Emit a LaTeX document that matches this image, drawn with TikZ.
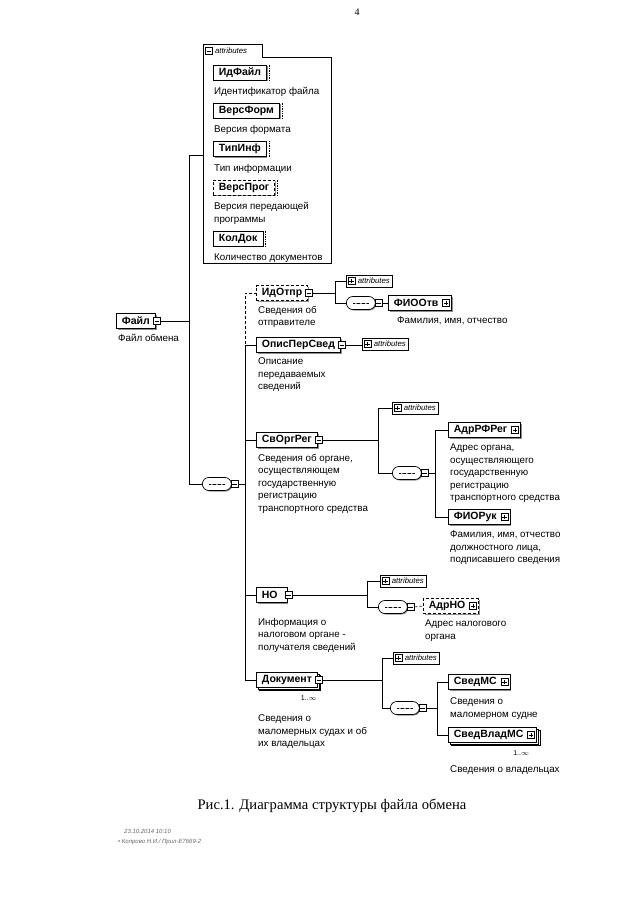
\documentclass[tikz,border=0pt]{standalone}
\usepackage{fontspec}
\setmainfont{Liberation Sans}
\newfontfamily\capfont{Liberation Serif}
\usetikzlibrary{positioning, shapes.misc, shadows}

\tikzset{
    elem/.style={draw, line width=0.8pt, fill=white, anchor=west, font=\fontsize{10.5}{12}\selectfont\bfseries,
        inner xsep=5.5pt, inner ysep=0pt, minimum height=15pt,
        drop shadow={shadow xshift=1.2pt, shadow yshift=-1.2pt, fill=black!45, opacity=1}},
    optelem/.style={elem, densely dashed},
    multelem/.style={elem, double copy shadow={shadow xshift=1.6pt, shadow yshift=-1.6pt}},
    desc/.style={align=left, inner sep=0pt, font=\fontsize{9.8}{12.5}\selectfont},
    mbtn/.style={draw, solid, fill=white, line width=0.6pt, minimum size=7pt, inner sep=0pt,
        path picture={\draw ([xshift=1.3pt]path picture bounding box.west) -- ([xshift=-1.3pt]path picture bounding box.east);}},
    pbtn/.style={mbtn,
        path picture={\draw ([xshift=1.3pt]path picture bounding box.west) -- ([xshift=-1.3pt]path picture bounding box.east);
                      \draw ([yshift=-1.3pt]path picture bounding box.north) -- ([yshift=1.3pt]path picture bounding box.south);}},
    attr/.style={draw, fill=white, line width=0.6pt, anchor=west, font=\fontsize{7.8}{9}\selectfont\itshape,
        inner xsep=2.5pt, inner ysep=0pt, minimum height=12pt,
        drop shadow={shadow xshift=1pt, shadow yshift=-1pt, fill=black!45, opacity=1}},
    seq/.style={rounded rectangle, draw, fill=white, line width=0.7pt, anchor=west,
        minimum width=29pt, minimum height=13pt, inner sep=0pt,
        drop shadow={shadow xshift=1pt, shadow yshift=-1pt, fill=black!45, opacity=1},
        path picture={\draw ([xshift=-8pt]path picture bounding box.center) -- ([xshift=8pt]path picture bounding box.center);
                      \fill ([xshift=-5pt]path picture bounding box.center) circle (1pt)
                            (path picture bounding box.center) circle (1pt)
                            ([xshift=5pt]path picture bounding box.center) circle (1pt);}},
    conn/.style={line width=0.6pt},
    mult/.style={font=\fontsize{7}{8}\selectfont, inner sep=0pt},
}
\newcommand{\simplemark}[1]{\draw[densely dotted, line width=0.7pt] ([xshift=2.5pt]#1.north east) -- ([xshift=2.5pt]#1.south east);}

\begin{document}
\begin{tikzpicture}[x=1pt, y=-1pt]
    \useasboundingbox[fill=white] (0,0) rectangle (640,905);

    \node[font=\capfont\fontsize{10}{12}\selectfont] (pagenum) at (357,12) {4};

    % attributes of the root
    \draw[conn] (203,44) -- (262,44) -- (262,57) -- (331,57) -- (331,263) -- (203,263) -- cycle;
    \node[mbtn] (tabb) at (209,51) {};
    \node[anchor=west, inner sep=0pt, font=\fontsize{7.8}{9}\selectfont\itshape, right=2pt of tabb] (tabt) {attributes};
    \coordinate (attrtop) at (203,155);

    \node[elem] (idfayl) at (213,72.5) {ИдФайл};
    \node[desc, below right=7pt and 1pt of idfayl.south west] (idfayld) {Идентификатор файла};
    \node[elem] (versform) at (213,110.5) {ВерсФорм};
    \node[desc, below right=7pt and 1pt of versform.south west] (versformd) {Версия формата};
    \node[elem] (tipinf) at (213,149) {ТипИнф};
    \node[desc, below right=7pt and 1pt of tipinf.south west] (tipinfd) {Тип информации};
    \node[optelem] (versprog) at (213,187.5) {ВерсПрог};
    \node[desc, below right=7pt and 1pt of versprog.south west] (versprogd) {Версия передающей\\программы};
    \node[elem] (koldok) at (213,238.5) {КолДок};
    \node[desc, below right=7pt and 1pt of koldok.south west] (koldokd) {Количество документов};
    \simplemark{idfayl}
    \simplemark{versform}
    \simplemark{tipinf}
    \simplemark{versprog}
    \simplemark{koldok}

    % root
    \node[elem] (fayl) at (116,321) {Файл};
    \node[mbtn] (faylb) at ([xshift=1pt]fayl.east) {};
    \node[desc, below right=5pt and 2pt of fayl.south west] (fayld) {Файл обмена};

    \coordinate (sp1) at (189,0);
    \node[seq] (seq1) at (202,484) {};
    \node[mbtn, right=-1pt of seq1] (seq1b) {};
    \draw[conn] (faylb.east) -- (faylb.east -| sp1);
    \draw[conn] (attrtop) -- (attrtop -| sp1) -- (seq1.west -| sp1) -- (seq1.west);

    % children of the sequence
    \node[optelem] (idotpr) at (256,293) {ИдОтпр};
    \node[mbtn] (idotprb) at ([xshift=1pt]idotpr.east) {};
    \node[desc, below right=5pt and 2pt of idotpr.south west] (idotprd) {Сведения об\\отправителе};

    \node[elem] (opisper) at (256,345) {ОписПерСвед};
    \node[mbtn] (opisperb) at ([xshift=1pt]opisper.east) {};
    \node[desc, below right=5pt and 2pt of opisper.south west] (opisperd) {Описание\\передаваемых\\сведений};

    \node[elem] (svorgreg) at (256,440) {СвОргРег};
    \node[mbtn] (svorgregb) at ([xshift=1pt]svorgreg.east) {};
    \node[desc, below right=6pt and 2pt of svorgreg.south west] (svorgregd) {Сведения об органе,\\осуществляющем\\государственную\\регистрацию\\транспортного средства};

    \node[elem] (nalog) at (256,595) {НО\kern4pt};
    \node[mbtn] (nalogb) at ([xshift=1pt]nalog.east) {};
    \node[desc, below right=15pt and 2pt of nalog.south west] (nalogd) {Информация о\\налоговом органе -\\получателя сведений};

    \node[multelem] (dokument) at (256,680) {Документ};
    \node[mbtn] (dokumentb) at ([xshift=1pt]dokument.east) {};
    \node[mult, below left=8pt and 1pt of dokument.south east] (dokumentm) {1..$\infty$};
    \node[desc, below right=27pt and 2pt of dokument.south west] (dokumentd) {Сведения о\\маломерных  судах и об\\их владельцах};

    \coordinate (sp2) at (245,0);
    \draw[conn] (seq1b.east) -- (seq1b.east -| sp2);
    \draw[conn, densely dashed] (seq1b.east -| sp2) -- (idotpr.west -| sp2) -- (idotpr.west);
    \draw[conn] (opisper.west) -- (opisper.west -| sp2) -- (dokument.west -| sp2) -- (dokument.west);
    \draw[conn] (svorgreg.west -| sp2) -- (svorgreg.west);
    \draw[conn] (nalog.west -| sp2) -- (nalog.west);

    % ИдОтпр
    \coordinate (sp3) at (335,0);
    \node[attr] (idotpra) at (346,281) {\hspace{9pt}attributes};
    \node[pbtn] at ([xshift=5.5pt]idotpra.west) {};
    \node[seq] (seq2) at (346,303) {};
    \node[mbtn, right=-1pt of seq2] (seq2b) {};
    \node[elem] (fiootv) at (388,303) {ФИООтв\kern8pt};
    \node[pbtn] (fiootvb) at ([xshift=-6pt]fiootv.east) {};
    \node[desc, below right=6pt and 9pt of fiootv.south west] (fiootvd) {Фамилия, имя, отчество};
    \draw[conn] (idotprb.east) -- (idotprb.east -| sp3);
    \draw[conn] (idotpra.west) -- (idotpra.west -| sp3) -- (seq2.west -| sp3) -- (seq2.west);
    \draw[conn] (seq2b.east) -- (fiootv.west);

    % ОписПерСвед
    \node[attr] (opispera) at (362,344) {\hspace{9pt}attributes};
    \node[pbtn] at ([xshift=5.5pt]opispera.west) {};
    \draw[conn] (opisperb.east) -- (opisperb.east -| opispera.west);

    % СвОргРег
    \coordinate (sp4) at (378,0);
    \node[attr] (svorgrega) at (392,408) {\hspace{9pt}attributes};
    \node[pbtn] at ([xshift=5.5pt]svorgrega.west) {};
    \node[seq] (seq3) at (392,473) {};
    \node[mbtn, right=-1pt of seq3] (seq3b) {};
    \draw[conn] (svorgregb.east) -- (svorgregb.east -| sp4);
    \draw[conn] (svorgrega.west) -- (svorgrega.west -| sp4) -- (seq3.west -| sp4) -- (seq3.west);

    \coordinate (sp5) at (435,0);
    \node[elem] (adrrfreg) at (448,430) {АдрРФРег\kern8pt};
    \node[pbtn] (adrrfregb) at ([xshift=-6pt]adrrfreg.east) {};
    \node[desc, below right=6pt and 2pt of adrrfreg.south west] (adrrfregd) {Адрес органа,\\осуществляющего\\государственную\\регистрацию\\транспортного средства};
    \node[elem] (fioruk) at (448,517) {ФИОРук\kern8pt};
    \node[pbtn] (fiorukb) at ([xshift=-6pt]fioruk.east) {};
    \node[desc, below right=6pt and 2pt of fioruk.south west] (fiorukd) {Фамилия, имя, отчество\\должностного лица,\\подписавшего сведения};
    \draw[conn] (seq3b.east) -- (seq3b.east -| sp5);
    \draw[conn] (adrrfreg.west) -- (adrrfreg.west -| sp5) -- (fioruk.west -| sp5) -- (fioruk.west);

    % НО
    \coordinate (sp6) at (367,0);
    \node[attr] (naloga) at (380,581) {\hspace{9pt}attributes};
    \node[pbtn] at ([xshift=5.5pt]naloga.west) {};
    \node[seq] (seq4) at (378,607) {};
    \node[mbtn, right=-1pt of seq4] (seq4b) {};
    \node[optelem] (adrno) at (423,606) {АдрНО\kern8pt};
    \node[pbtn] (adrnob) at ([xshift=-6pt]adrno.east) {};
    \node[desc, below right=6pt and 2pt of adrno.south west] (adrnod) {Адрес налогового\\органа};
    \draw[conn] (nalogb.east) -- (nalogb.east -| sp6);
    \draw[conn] (naloga.west) -- (naloga.west -| sp6) -- (seq4.west -| sp6) -- (seq4.west);
    \draw[conn, densely dashed] (seq4b.east) -- (adrno.west);

    % Документ
    \coordinate (sp7) at (382,0);
    \node[attr] (dokumenta) at (393,658) {\hspace{9pt}attributes};
    \node[pbtn] at ([xshift=5.5pt]dokumenta.west) {};
    \node[seq] (seq5) at (390,708) {};
    \node[mbtn, right=-1pt of seq5] (seq5b) {};
    \draw[conn] (dokumentb.east) -- (dokumentb.east -| sp7);
    \draw[conn] (dokumenta.west) -- (dokumenta.west -| sp7) -- (seq5.west -| sp7) -- (seq5.west);

    \coordinate (sp8) at (437,0);
    \node[elem] (svedms) at (448,682) {СведМС\kern8pt};
    \node[pbtn] (svedmsb) at ([xshift=-6pt]svedms.east) {};
    \node[desc, below right=8pt and 2pt of svedms.south west] (svedmsd) {Сведения о\\маломерном судне};
    \node[multelem] (svedvladms) at (448,735) {СведВладМС\kern8pt};
    \node[pbtn] (svedvladmsb) at ([xshift=-6pt]svedvladms.east) {};
    \node[mult, below left=8pt and 8pt of svedvladms.south east] (svedvladmsm) {1..$\infty$};
    \node[desc, below right=23pt and 2pt of svedvladms.south west] (svedvladmsd) {Сведения о владельцах};
    \draw[conn] (seq5b.east) -- (seq5b.east -| sp8);
    \draw[conn] (svedms.west) -- (svedms.west -| sp8) -- (svedvladms.west -| sp8) -- (svedvladms.west);

    % caption and footer
    \node[font=\capfont\fontsize{14.6}{16}\selectfont] (caption) at (332,806) {Рис.1. Диаграмма структуры файла обмена};
    \node[anchor=west, inner sep=0pt, font=\fontsize{6}{7}\selectfont\itshape, text=black!60] (stamp) at (124,831) {23.10.2014 10:10};
    \node[anchor=west, inner sep=0pt, font=\fontsize{6}{7}\selectfont\itshape, text=black!60] (stamp2) at (118,842) {• Копрово Н.И./ Прил-Е7669-2};
\end{tikzpicture}
\end{document}
